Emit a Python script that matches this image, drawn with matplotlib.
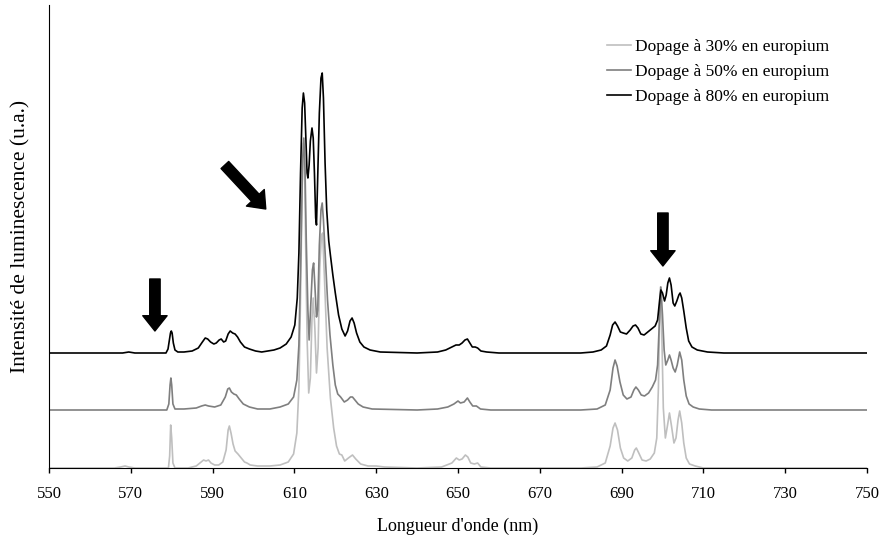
import numpy as np
import matplotlib.pyplot as plt

# spectra (wavelength in nm, intensity in a.u. above each curve's own baseline)
wl_30 = [550, 566, 567.5, 568.6, 569.5, 571, 579.2, 579.5, 579.75, 580.0, 580.3, 580.8, 584, 586,
         587.2, 587.8, 588.4, 589.0, 589.6, 590.5, 591.5, 592.5, 593.3, 593.8, 594.1, 594.5, 595.0,
         595.5, 596.2, 597.0, 597.8, 598.4, 599.2, 601, 604, 606.5, 608.5, 609.8, 610.6, 611.1,
         611.5, 611.9, 612.2, 612.5, 612.8, 613.1, 613.5, 613.9, 614.3, 614.6, 615.0, 615.4, 615.8,
         616.2, 616.6, 616.9, 617.3, 618.0, 618.8, 619.6, 620.3, 621.0, 621.6, 622.3, 623.2, 624.2,
         625.0, 626.2, 628, 630, 632, 640, 646, 648.5, 649.6, 650.3, 651.0, 651.8, 652.4, 653.1,
         654.0, 654.8, 655.6, 658, 680, 684, 686, 687.2, 687.9, 688.4, 689.0, 689.7, 690.5, 691.5,
         692.5, 693.2, 693.6, 694.2, 695.0, 696.0, 697.0, 698.0, 698.6, 699.0, 699.3, 699.5, 699.8,
         700.2, 700.7, 701.2, 701.7, 702.2, 702.8, 703.3, 703.8, 704.2, 704.7, 705.2, 705.8, 706.6,
         708, 710, 750]
int_30 = [0, 0, 1, 2, 1, 0, 0, 12, 43, 30, 5, 0, 0, 2,
          6, 8, 7, 8, 5, 3, 3, 6, 18, 38, 42, 35, 24,
          17, 14, 10, 6, 5, 3, 2, 2, 3, 6, 14, 35, 80,
          170, 280, 325, 300, 210, 130, 75, 90, 150, 170, 140, 95, 120,
          200, 232, 235, 195, 120, 70, 40, 22, 14, 13, 7, 10, 13,
          9, 4, 2, 2, 1, 0, 1, 5, 10, 8, 9, 13, 11, 5,
          4, 5, 1, 0, 0, 1, 5, 22, 40, 45, 38, 20, 10, 7,
          10, 18, 20, 15, 8, 7, 9, 15, 30, 80, 150, 181, 140,
          60, 30, 42, 55, 42, 25, 30, 48, 57, 45, 25, 10, 4,
          2, 0, 0]

wl_50 = [550, 578.8, 579.3, 579.6, 579.8, 580.0, 580.3, 580.8, 583, 586, 587.3, 588.2, 589.0,
         590.5, 592.0, 593.1, 593.7, 594.1, 594.6, 595.2, 595.8, 596.5, 597.5, 599, 601, 604,
         606.5, 608.5, 609.8, 610.6, 611.1, 611.6, 612.0, 612.3, 612.6, 612.9, 613.3, 613.6,
         614.0, 614.4, 614.7, 615.0, 615.4, 615.7, 616.1, 616.5, 616.8, 617.1, 617.6, 618.1,
         618.7, 619.4, 620.0, 620.6, 621.3, 622.2, 623.0, 623.7, 624.2, 624.8, 625.6, 626.8, 629,
         640, 645, 647.5, 649.0, 650.0, 650.6, 651.5, 652.3, 652.9, 653.6, 654.5, 655.5, 658, 680,
         684, 686, 687.2, 687.9, 688.4, 688.9, 689.6, 690.4, 691.3, 692.3, 693.0, 693.5, 694.1,
         694.8, 695.6, 696.6, 697.5, 698.3, 698.8, 699.2, 699.6, 700.0, 700.4, 700.8, 701.3,
         701.7, 702.1, 702.6, 703.1, 703.6, 704.2, 704.7, 705.2, 705.8, 706.5, 707.5, 709, 712, 750]
int_50 = [0, 0, 6, 25, 32, 25, 6, 1, 1, 2, 4, 5, 4,
          3, 5, 13, 21, 22, 18, 16, 15, 11, 6, 3, 1, 1,
          3, 6, 13, 30, 65, 160, 250, 272, 240, 170, 100, 70,
          105, 140, 147, 125, 93, 100, 165, 200, 207, 190, 150, 110,
          75, 45, 25, 16, 13, 8, 10, 13, 13, 10, 6, 3, 1,
          0, 1, 3, 6, 9, 7, 8, 12, 8, 4, 4, 1, 0, 0,
          1, 5, 20, 42, 50, 44, 28, 15, 11, 13, 20, 23, 20,
          15, 14, 17, 23, 30, 45, 85, 123, 95, 60, 45, 50,
          55, 50, 42, 38, 45, 58, 50, 30, 14, 6, 3, 1, 0, 0]

wl_80 = [550, 560, 568, 569.5, 571, 578.6, 579.1, 579.4, 579.7, 579.9, 580.1, 580.4, 580.8, 581.5,
         583, 585, 586.5, 587.5, 588.2, 588.8, 589.5, 590.3, 590.9, 591.6, 592.1, 592.7, 593.2,
         593.8, 594.3, 594.9, 595.5, 596.1, 596.8, 597.8, 599, 600.5, 602, 603.5, 605, 606.5, 608,
         609.2, 610.1, 610.7, 611.1, 611.5, 611.9, 612.2, 612.5, 612.8, 613.1, 613.3, 613.6, 613.9,
         614.3, 614.6, 614.9, 615.2, 615.4, 615.7, 616.1, 616.5, 616.8, 617.1, 617.5, 617.9, 618.4,
         618.8, 619.4, 620.0, 620.8, 621.6, 622.4, 623.0, 623.6, 624.1, 624.6, 625.2, 626.0, 627,
         628.5, 631, 640, 645, 647, 648.5, 649.5, 650.3, 651.0, 651.7, 652.3, 652.9, 653.5, 654.2,
         654.8, 655.6, 657, 660, 680, 683, 685, 686.3, 687.2, 687.8, 688.4, 689.0, 689.7, 690.4,
         691.2, 692.1, 692.8, 693.4, 694.0, 694.7, 695.5, 696.4, 697.3, 698.2, 698.8, 699.3, 699.6,
         700.0, 700.5, 700.9, 701.3, 701.7, 702.1, 702.6, 703.0, 703.5, 704.0, 704.3, 704.7, 705.2,
         705.8, 706.4, 707.2, 708.5, 711, 715, 750]
int_80 = [0, 0, 0, 1, 0, 0, 4, 12, 20, 22, 20, 10, 3, 1,
          1, 2, 5, 11, 15, 14, 11, 9, 10, 13, 14, 11, 12,
          19, 22, 20, 19, 16, 11, 6, 4, 2, 1, 2, 3, 5, 9,
          16, 28, 55, 100, 180, 245, 260, 250, 215, 180, 175, 188, 212,
          225, 215, 180, 135, 128, 175, 240, 275, 280, 255, 190, 143, 112,
          98, 78, 60, 38, 24, 17, 22, 32, 35, 30, 20, 11, 6,
          3, 1, 0, 1, 3, 6, 8, 8, 10, 13, 14, 10, 6, 6,
          5, 2, 1, 0, 0, 1, 3, 7, 18, 28, 31, 27, 21, 20,
          19, 23, 27, 28, 25, 19, 18, 21, 24, 27, 33, 53, 63,
          60, 52, 58, 70, 75, 68, 50, 47, 52, 58, 60, 55, 42,
          25, 12, 6, 3, 1, 0, 0]

labels = ["Dopage à 30% en europium", "Dopage à 50% en europium", "Dopage à 80% en europium"]
offsets = [0, 58, 115]  # vertical shift applied to each spectrum

# arrow annotations: (tail wavelength, tail intensity, tip wavelength, tip intensity)
arrows = [(575.9, 189, 575.9, 137),
          (593.0, 303, 603.0, 259),
          (700.1, 255, 700.1, 202)]

plt.rcParams['font.family'] = ['Liberation Serif', 'DejaVu Serif']
plt.rcParams['font.size'] = 12

fig = plt.figure(figsize=(8.82, 5.37), dpi=100)
ax = fig.add_axes([49 / 882, 1 - 468 / 537, 818 / 882, 463 / 537])

colors = ['#bfbfbf', '#7f7f7f', '#000000']
series = [(wl_30, int_30), (wl_50, int_50), (wl_80, int_80)]
for (wl, val), off, c, lab in zip(series, offsets, colors, labels):
    ax.plot(wl, np.array(val) + off, color=c, linewidth=1.2, label=lab)

for x0, y0, x1, y1 in arrows:
    ax.annotate('', xy=(x1, y1), xytext=(x0, y0),
                arrowprops=dict(arrowstyle='simple,head_length=1.1,head_width=1.75,tail_width=0.75',
                                color='k', mutation_scale=10, shrinkA=0, shrinkB=0))

ax.set_xlim(550, 750)
ax.set_ylim(0, 463)
ax.set_xticks(np.arange(550, 751, 20))
ax.set_yticks([])
ax.tick_params(axis='x', direction='out', length=3.6, width=1, pad=9.4, labelsize=12)
ax.spines['top'].set_visible(False)
ax.spines['right'].set_visible(False)
ax.set_xlabel("Longueur d'onde (nm)", labelpad=11, fontsize=13)
ax.set_ylabel("Intensité de luminescence (u.a.)", labelpad=13, fontsize=15.5)

ax.legend(loc='upper left', bbox_to_anchor=(0.682, 0.927), frameon=False, handlelength=1.4,
          handletextpad=0.22, labelspacing=0.5, borderpad=0, borderaxespad=0, fontsize=12.5)

plt.savefig('out.png', dpi=100)
